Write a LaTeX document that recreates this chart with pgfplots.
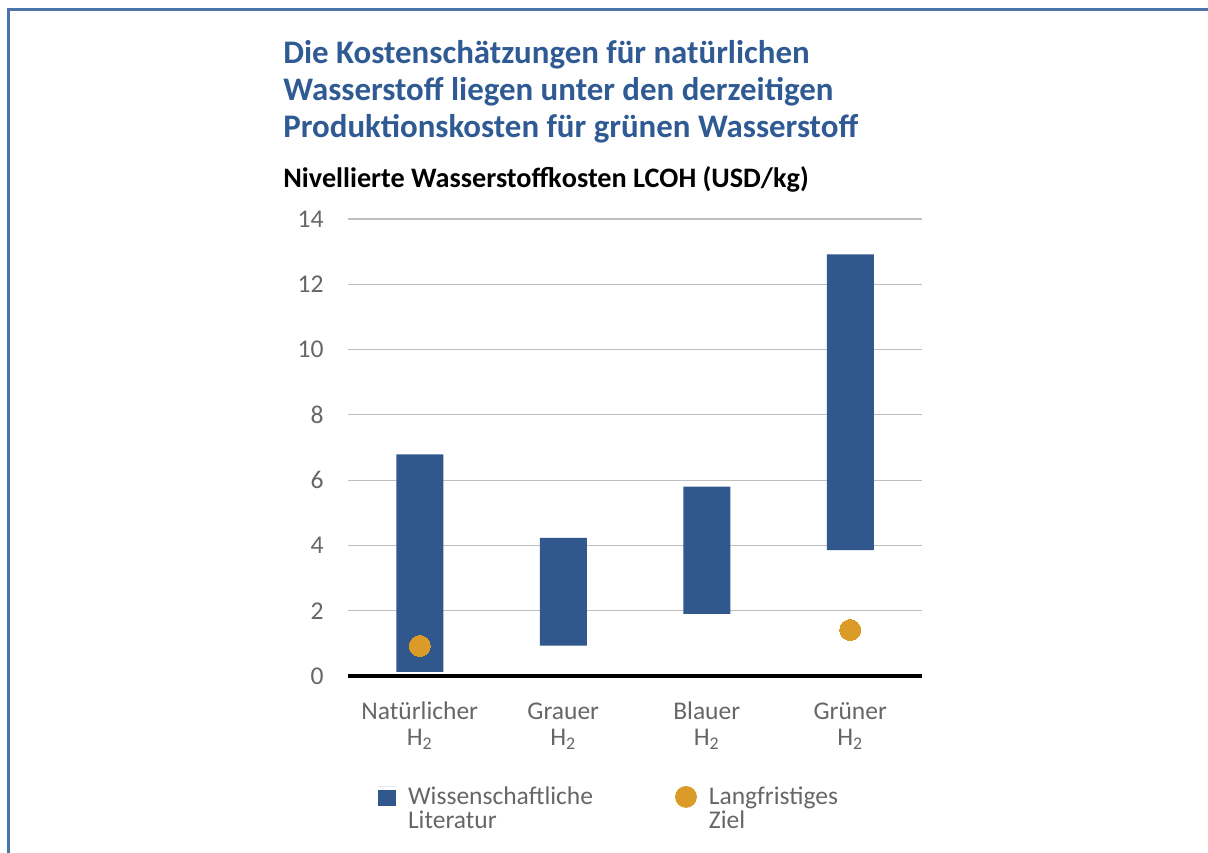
\documentclass[border=0pt]{standalone}
\usepackage{fontspec}
\setmainfont{Carlito}
\usepackage{pgfplots}
\pgfplotsset{compat=1.18}
\usepackage{pgfplotstable}
\definecolor{barblue}{HTML}{31588C}
\definecolor{dotc}{HTML}{DA9B28}
\definecolor{titleblue}{HTML}{2F5A93}
\definecolor{txtgray}{HTML}{666666}
\definecolor{gridgray}{HTML}{BFBFBF}
\definecolor{frameblue}{HTML}{4A74AA}

\pgfplotstableread{
x low high
0 0.13 6.79
1 0.93 4.23
2 1.90 5.80
3 3.86 12.92
}\ranges

\pgfplotstableread{
x target
0 0.92
3 1.41
}\targets

\newcommand{\lr}{\rule{0pt}{10pt}}

\begin{document}
\begin{tikzpicture}
\useasboundingbox (0,0) rectangle (604pt,-426pt);
\draw[frameblue, line width=1.5pt] (4.25pt,-432pt) -- (4.25pt,-4.5pt) -- (612pt,-4.5pt);
\node[anchor=base west, font=\fontsize{16.45}{16}\selectfont\bfseries, text=titleblue, inner sep=0pt] at (141.5pt,-31.5pt) {Die Kostenschätzungen für natürlichen};
\node[anchor=base west, font=\fontsize{16.45}{16}\selectfont\bfseries, text=titleblue, inner sep=0pt] at (141.5pt,-50pt) {Wasserstoff liegen unter den derzeitigen};
\node[anchor=base west, font=\fontsize{16.45}{16}\selectfont\bfseries, text=titleblue, inner sep=0pt] at (141.5pt,-68.5pt) {Produktionskosten für grünen Wasserstoff};
\node[anchor=base west, font=\fontsize{14.1}{14}\selectfont\bfseries, text=black, inner sep=0pt] at (141.5pt,-93.5pt) {Nivellierte Wasserstoffkosten LCOH (USD/kg)};

\begin{axis}[
  at={(174pt,-338pt)}, anchor=south west, scale only axis,
  width=287pt, height=228.5pt,
  xmin=-0.5, xmax=3.5, ymin=0, ymax=14,
  ybar stacked, bar width=23.5pt,
  xtick={0,1,2,3},
  xticklabels={{\lr Natürlicher\\H\textsubscript{2}},{\lr Grauer\\H\textsubscript{2}},{\lr Blauer\\H\textsubscript{2}},{\lr Grüner\\H\textsubscript{2}}},
  ytick={0,2,...,14},
  major tick length=0pt,
  ymajorgrids, grid style={gridgray, line width=0.6pt},
  axis x line*=bottom, axis y line*=left,
  x axis line style={black, line width=1.75pt, -},
  y axis line style={draw=none},
  /pgf/number format/assume math mode=true,
  yticklabel style={font=\fontsize{12.8}{12.8}\selectfont, text=txtgray, inner sep=0pt, anchor=east, xshift=-12pt},
  xticklabel style={font=\fontsize{12.75}{13}\selectfont, text=txtgray, align=center, inner sep=0pt, anchor=north, yshift=-11.5pt},
  legend columns=2,
  legend style={at={(axis description cs:0.0523,-0.2407)}, anchor=north west, draw=none, fill=none,
    inner sep=0pt, outer sep=0pt,
    font=\fontsize{12.75}{12}\selectfont, text=txtgray,
    nodes={inner sep=0pt, outer sep=0pt},
    cells={anchor=north west, align=left},
    /tikz/every odd column/.append style={column sep=6pt},
    /tikz/every even column/.append style={column sep=41pt}},
]
\addplot[draw=none, fill=none, forget plot] table[x=x, y=low] {\ranges};
\addplot[draw=none, fill=barblue,
  legend image code/.code={\path (0pt,0pt) rectangle (9pt,0pt); \fill[barblue] (0pt,-2pt) rectangle (9pt,-10pt);}]
  table[x=x, y expr=\thisrow{high}-\thisrow{low}] {\ranges};
\addlegendentry{Wissenschaftliche\\Literatur}
\addlegendimage{legend image code/.code={\fill[dotc] (5.25pt,-5.25pt) circle (5.25pt);}}
\addlegendentry{Langfristiges\\Ziel}
\end{axis}

\begin{axis}[
  at={(174pt,-338pt)}, anchor=south west, scale only axis,
  width=287pt, height=228.5pt,
  xmin=-0.5, xmax=3.5, ymin=0, ymax=14,
  hide axis, clip=false,
]
\addplot[only marks, color=dotc, mark=*, mark size=5.25pt, mark options={draw=dotc, fill=dotc, line width=0pt}] table[x=x, y=target] {\targets};
\end{axis}
\end{tikzpicture}
\end{document}
